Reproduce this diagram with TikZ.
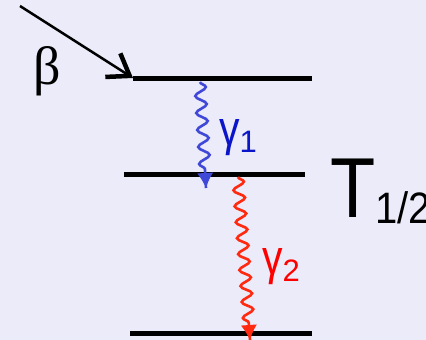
\documentclass[tikz,border=0pt]{standalone}
\usepackage{fontspec}
\setmainfont{Liberation Sans}
\newfontfamily\serifgreek{Liberation Serif}
\usetikzlibrary{arrows.meta,decorations.pathmorphing,calc}
\definecolor{bgcol}{HTML}{EBEBFA}
\definecolor{wavblue}{HTML}{4048D8}
\definecolor{lblblue}{HTML}{0A14C8}
\definecolor{wavred}{HTML}{FF2A10}
\definecolor{lblred}{HTML}{FF0000}
\tikzset{
  level/.style={line width=5pt},
  photon/.style={line width=2.6pt, decorate,
    decoration={snake, segment length=#1, amplitude=5.5pt, pre length=0pt, post length=12pt}},
  photontip/.style={line width=1pt, -{Latex[length=15pt,width=16pt]}},
  txt/.style={inner sep=0pt, outer sep=0pt, anchor=base west},
}
\begin{document}
\begin{tikzpicture}[x=1pt,y=-1pt]
\fill[bgcol] (0,0) rectangle (426,340);
\useasboundingbox (0,0) rectangle (426,340);
% levels
\coordinate (t1) at (133,78);
\coordinate (t2) at (312,78);
\coordinate (m1) at (124,174);
\coordinate (m2) at (305,174);
\coordinate (b1) at (130,333.5);
\coordinate (b2) at (312,333.5);
\draw[level] (t1) -- (t2);
\draw[level] (m1) -- (m2);
\draw[level] (b1) -- (b2);
% beta
\coordinate (bs) at (20,6);
\coordinate (bt) at (133,78);
\draw[line width=2.5pt, -{Straight Barb[length=20pt,width=28pt,line width=4.5pt]}] (bs) -- (bt);
\node[txt] (beta) at (33,84) {\fontsize{54}{54}\selectfont\serifgreek β};
% gamma 1
\coordinate (g1s) at (200,82);
\coordinate (g1e) at (206,188);
\draw[wavblue, photon=17pt] (g1s) -- (g1e);
\draw[wavblue, photontip] ($(g1e)!13pt!(g1s)$) -- (g1e);
\node[txt, lblblue] (g1) at (219,145) {\scalebox{1}[1.2]{\fontsize{41}{41}\selectfont γ}\raisebox{-7pt}{\fontsize{31}{31}\selectfont 1}};
% gamma 2
\coordinate (g2s) at (238,177);
\coordinate (g2e) at (250,340);
\draw[wavred, photon=16pt] (g2s) -- (g2e);
\draw[wavred, photontip] ($(g2e)!13pt!(g2s)$) -- (g2e);
\node[txt, lblred] (g2) at (262,274) {\scalebox{1}[1.2]{\fontsize{41}{41}\selectfont γ}\raisebox{-7pt}{\fontsize{31}{31}\selectfont 2}};
% half-life
\node[txt] (T) at (330,217) {\scalebox{1}[1.15]{\fontsize{74}{74}\selectfont T}\raisebox{-6pt}{\scalebox{1}[1.1]{\fontsize{40}{40}\selectfont 1/2}}};
\end{tikzpicture}
\end{document}
